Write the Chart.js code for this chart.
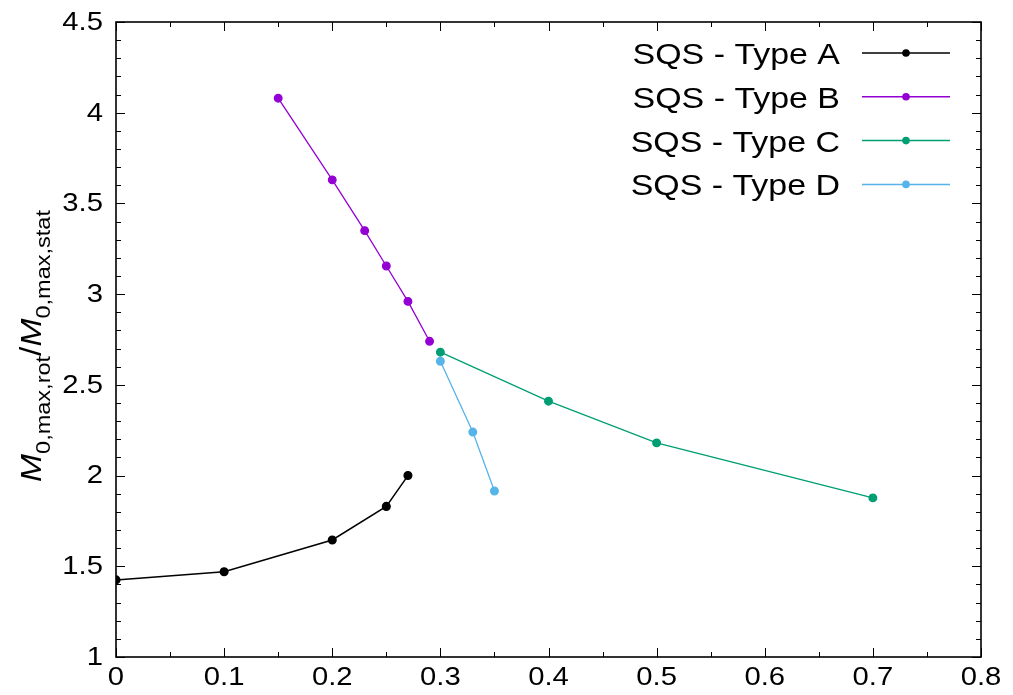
<!DOCTYPE html>
<html>
<head>
<meta charset="utf-8">
<script src="https://cdn.jsdelivr.net/npm/chart.js@4/dist/chart.umd.min.js"></script>
<style>
  html, body { margin: 0; padding: 0; background: #fff; }
  #wrap { width: 1013px; height: 695px; }
</style>
</head>
<body>
<div id="wrap"><canvas id="ratioChart"></canvas></div>
<script>
// series: x = offset ratio, y = rotating/stationary moment ratio
const typeAX = [0, 0.1, 0.2, 0.25, 0.27];
const typeAY = [1.425, 1.47, 1.645, 1.83, 2.0];
const typeBX = [0.15, 0.2, 0.23, 0.25, 0.27, 0.29];
const typeBY = [4.08, 3.63, 3.35, 3.155, 2.96, 2.74];
const typeCX = [0.3, 0.4, 0.5, 0.7];
const typeCY = [2.68, 2.41, 2.18, 1.877];
const typeDX = [0.3, 0.33, 0.35];
const typeDY = [2.63, 2.24, 1.915];

const seriesNames = ['SQS - Type A', 'SQS - Type B', 'SQS - Type C', 'SQS - Type D'];
const seriesColors = ['#000000', '#9400d3', '#009e73', '#56b4e9'];

const xTicks = [0, 0.1, 0.2, 0.3, 0.4, 0.5, 0.6, 0.7, 0.8];
const xTickLabels = ['0', '0.1', '0.2', '0.3', '0.4', '0.5', '0.6', '0.7', '0.8'];
const yTicks = [1, 1.5, 2, 2.5, 3, 3.5, 4, 4.5];
const yTickLabels = ['1', '1.5', '2', '2.5', '3', '3.5', '4', '4.5'];

const FONT = '"Liberation Sans", Arial, sans-serif';
const STRETCH = 1.17; // text is drawn a little wide

function toPoints(xs, ys) {
  return xs.map((x, i) => ({ x: x, y: ys[i] }));
}

const allX = [typeAX, typeBX, typeCX, typeDX];
const allY = [typeAY, typeBY, typeCY, typeDY];

const datasets = seriesNames.map((name, i) => ({
  label: name,
  data: toPoints(allX[i], allY[i]),
  borderColor: seriesColors[i],
  backgroundColor: seriesColors[i],
  borderWidth: i === 0 ? 1.5 : 1.3,
  pointRadius: 3.8,
  pointHoverRadius: 3.8,
  showLine: true,
  tension: 0
}));

function wideText(ctx, text, x, y, align) {
  const w = ctx.measureText(text).width * STRETCH;
  let left = x;
  if (align === 'right') left = x - w;
  else if (align === 'center') left = x - w / 2;
  ctx.save();
  ctx.translate(left, y);
  ctx.scale(STRETCH, 1);
  ctx.textAlign = 'left';
  ctx.fillText(text, 0, 0);
  ctx.restore();
}

// frame with inward major/minor ticks on all four sides, plus tick labels
const frameTicks = {
  id: 'frameTicks',
  afterDraw(chart) {
    const ctx = chart.ctx;
    const a = chart.chartArea;
    const xs = chart.scales.x, ys = chart.scales.y;
    ctx.save();
    ctx.strokeStyle = '#000';
    ctx.lineWidth = 1.6;
    ctx.strokeRect(a.left, a.top, a.right - a.left, a.bottom - a.top);
    ctx.lineWidth = 1;
    ctx.beginPath();
    for (let v = 0; v <= 0.8001; v += 0.05) {
      const px = Math.round(xs.getPixelForValue(v)) + 0.5;
      const major = Math.abs(v * 10 - Math.round(v * 10)) < 1e-6;
      const len = major ? 9 : 5;
      ctx.moveTo(px, a.bottom); ctx.lineTo(px, a.bottom - len);
      ctx.moveTo(px, a.top); ctx.lineTo(px, a.top + len);
    }
    for (let v = 1; v <= 4.5001; v += 0.1) {
      const py = Math.round(ys.getPixelForValue(v)) + 0.5;
      const major = Math.abs(v * 2 - Math.round(v * 2)) < 1e-6;
      const len = major ? 9 : 5;
      ctx.moveTo(a.left, py); ctx.lineTo(a.left + len, py);
      ctx.moveTo(a.right, py); ctx.lineTo(a.right - len, py);
    }
    ctx.stroke();

    ctx.fillStyle = '#000';
    ctx.font = '25px ' + FONT;
    ctx.textBaseline = 'middle';
    xTicks.forEach((v, i) => {
      wideText(ctx, xTickLabels[i], xs.getPixelForValue(v), a.bottom + 21, 'center');
    });
    yTicks.forEach((v, i) => {
      wideText(ctx, yTickLabels[i], a.left - 13, ys.getPixelForValue(v) + 1, 'right');
    });
    ctx.restore();
  }
};

// legend in the upper right: text right-aligned, sample line with marker after it
const sampleLegend = {
  id: 'sampleLegend',
  afterDraw(chart) {
    const ctx = chart.ctx;
    ctx.save();
    ctx.font = '29px ' + FONT;
    ctx.textBaseline = 'middle';
    seriesNames.forEach((name, i) => {
      const y = 53 + i * 43.8;
      ctx.fillStyle = '#000';
      wideText(ctx, name, 840, y + 3, 'right');
      ctx.strokeStyle = seriesColors[i];
      ctx.lineWidth = 1.5;
      ctx.beginPath();
      ctx.moveTo(862, y); ctx.lineTo(950, y);
      ctx.stroke();
      ctx.fillStyle = seriesColors[i];
      ctx.beginPath();
      ctx.arc(906, y, 3.8, 0, Math.PI * 2);
      ctx.fill();
    });
    ctx.restore();
  }
};

// rotated y-axis title with italic M and subscripts
const yTitle = {
  id: 'yTitle',
  afterDraw(chart) {
    const ctx = chart.ctx;
    const parts = [
      { t: 'M', font: 'italic 30px ' + FONT, dy: 0 },
      { t: '0,max,rot', font: '21px ' + FONT, dy: 9 },
      { t: '/', font: '30px ' + FONT, dy: 0 },
      { t: 'M', font: 'italic 30px ' + FONT, dy: 0 },
      { t: '0,max,stat', font: '21px ' + FONT, dy: 9 }
    ];
    const along = 1.12;
    ctx.save();
    ctx.translate(0, 346);
    ctx.rotate(-Math.PI / 2);
    let total = 0;
    parts.forEach(p => { ctx.font = p.font; p.w = ctx.measureText(p.t).width * along; total += p.w; });
    let x = -total / 2;
    ctx.fillStyle = '#000';
    ctx.textBaseline = 'alphabetic';
    parts.forEach(p => {
      ctx.font = p.font;
      ctx.save();
      ctx.translate(x, 41 + p.dy);
      ctx.scale(along, 1);
      ctx.fillText(p.t, 0, 0);
      ctx.restore();
      x += p.w;
    });
    ctx.restore();
  }
};

new Chart(document.getElementById('ratioChart'), {
  type: 'scatter',
  data: { datasets: datasets },
  options: {
    responsive: true,
    maintainAspectRatio: false,
    animation: false,
    layout: { padding: { top: 22, right: 32, left: 0, bottom: 0 } },
    plugins: {
      legend: { display: false },
      tooltip: { enabled: false }
    },
    scales: {
      x: {
        type: 'linear',
        min: 0,
        max: 0.8,
        afterBuildTicks: s => { s.ticks = xTicks.map(v => ({ value: v })); },
        afterFit: s => { s.height = 38; },
        grid: { display: false, drawTicks: false },
        border: { display: false },
        ticks: { display: false }
      },
      y: {
        type: 'linear',
        min: 1,
        max: 4.5,
        afterBuildTicks: s => { s.ticks = yTicks.map(v => ({ value: v })); },
        afterFit: s => { s.width = 116; },
        grid: { display: false, drawTicks: false },
        border: { display: false },
        ticks: { display: false }
      }
    }
  },
  plugins: [frameTicks, sampleLegend, yTitle]
});
</script>
</body>
</html>
